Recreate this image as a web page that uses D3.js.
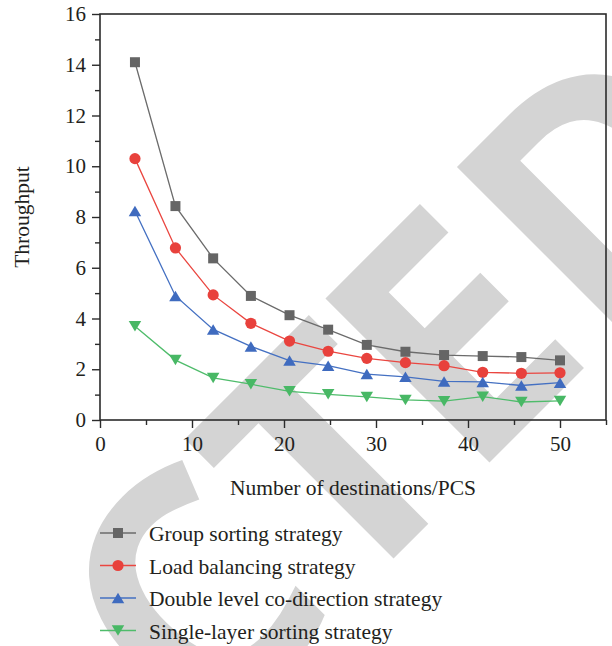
<!DOCTYPE html>
<html>
<head>
<meta charset="utf-8">
<script src="https://cdn.jsdelivr.net/npm/d3@7"></script>
<style>
  body { margin: 0; background: #ffffff; }
  svg { display: block; }
</style>
</head>
<body>
<svg id="chart" width="612" height="646"></svg>
<script>
// Number of destinations (PCS) for each measurement
const destinations = [3.8, 8.2, 12.3, 16.4, 20.6, 24.8, 29.0, 33.2, 37.4, 41.6, 45.8, 50];

// Throughput per strategy
const groupSorting   = [14.1, 8.43, 6.37, 4.89, 4.13, 3.56, 2.96, 2.69, 2.56, 2.52, 2.48, 2.35];
const loadBalancing  = [10.3, 6.78, 4.93, 3.81, 3.11, 2.71, 2.43, 2.26, 2.14, 1.88, 1.84, 1.86];
const doubleLevel    = [8.24, 4.89, 3.57, 2.90, 2.34, 2.14, 1.81, 1.70, 1.52, 1.50, 1.36, 1.47];
const singleLayer    = [3.69, 2.36, 1.66, 1.41, 1.13, 1.01, 0.91, 0.79, 0.74, 0.92, 0.71, 0.75];

const seriesNames = [
  "Group sorting strategy",
  "Load balancing strategy",
  "Double level co-direction strategy",
  "Single-layer sorting strategy"
];

const xMajorTicks = [0, 10, 20, 30, 40, 50];
const xMinorTicks = [5, 15, 25, 35, 45, 55];
const yMajorTicks = [0, 2, 4, 6, 8, 10, 12, 14, 16];
const yMinorTicks = [1, 3, 5, 7, 9, 11, 13, 15];

const xTitle = "Number of destinations/PCS";
const yTitle = "Throughput";

// Diagonal stamp text and the along-baseline offset of each letter
const stampText = "RETRACTED";
const stampLetterOffsets = [-1163, -955, -781, -603, -395, -180, 26, 202, 388];

// ---------------------------------------------------------------------------
const svg = d3.select("#chart");
const plot = { left: 100, right: 606, top: 14, bottom: 420 };

const x = d3.scaleLinear().domain([0, 55]).range([plot.left, plot.right]);
const y = d3.scaleLinear().domain([0, 16]).range([plot.bottom, plot.top]);

const serif = "'Liberation Serif', 'Times New Roman', 'DejaVu Serif', serif";
const textColor = "#231f20";
const axisColor = "#2b2b2b";

// Stamp layer (drawn first so everything else sits on top)
svg.append("g")
  .attr("transform", "translate(326,626) rotate(-45)")
  .append("text")
  .attr("x", stampLetterOffsets.join(" "))
  .attr("y", 0)
  .attr("font-family", "'Open Sans', 'Liberation Sans', Arial, sans-serif")
  .attr("font-weight", 700)
  .attr("font-size", 325)
  .attr("fill", "#d4d4d4")
  .text(stampText);

// Axes
function styleAxis(g) {
  g.select(".domain").remove();
  g.selectAll(".tick line").attr("stroke", axisColor).attr("stroke-width", 1.4);
  g.selectAll(".tick text")
    .attr("fill", textColor)
    .attr("font-family", serif)
    .attr("font-size", 21);
}

svg.append("g")
  .attr("transform", `translate(0,${plot.bottom})`)
  .call(d3.axisBottom(x).tickValues(xMajorTicks).tickSize(8).tickPadding(8).tickFormat(d3.format("d")))
  .call(styleAxis)
  .call(g => g.selectAll(".tick text").attr("dy", "0.71em"));

svg.append("g")
  .attr("transform", `translate(0,${plot.bottom})`)
  .call(d3.axisBottom(x).tickValues(xMinorTicks).tickSize(5).tickFormat(""))
  .call(styleAxis);

svg.append("g")
  .attr("transform", `translate(${plot.left},0)`)
  .call(d3.axisLeft(y).tickValues(yMajorTicks).tickSize(8).tickPadding(6).tickFormat(d3.format("d")))
  .call(styleAxis);

svg.append("g")
  .attr("transform", `translate(${plot.left},0)`)
  .call(d3.axisLeft(y).tickValues(yMinorTicks).tickSize(5).tickFormat(""))
  .call(styleAxis);

// Frame
svg.append("rect")
  .attr("x", plot.left).attr("y", plot.top)
  .attr("width", plot.right - plot.left).attr("height", plot.bottom - plot.top)
  .attr("fill", "none").attr("stroke", axisColor).attr("stroke-width", 1.6);

// Axis titles
svg.append("text")
  .attr("x", (plot.left + plot.right) / 2).attr("y", 495)
  .attr("text-anchor", "middle")
  .attr("font-family", serif).attr("font-size", 21.5).attr("fill", textColor)
  .text(xTitle);

svg.append("text")
  .attr("transform", `translate(29,${(plot.top + plot.bottom) / 2}) rotate(-90)`)
  .attr("text-anchor", "middle")
  .attr("font-family", serif).attr("font-size", 21.5).attr("fill", textColor)
  .text(yTitle);

// Marker shapes, centred on their bounding boxes
const markerPath = {
  square: s => `M${-s/2},${-s/2}H${s/2}V${s/2}H${-s/2}Z`,
  circle: s => d3.symbol(d3.symbolCircle, Math.PI * (s/2) * (s/2))(),
  up:     s => `M0,${-s*0.42}L${s/2},${s*0.42}L${-s/2},${s*0.42}Z`,
  down:   s => `M0,${s*0.42}L${s/2},${-s*0.42}L${-s/2},${-s*0.42}Z`
};

const series = [
  { name: seriesNames[0], values: groupSorting,  line: "#6b6b6b", fill: "#656565", shape: "square", size: 10 },
  { name: seriesNames[1], values: loadBalancing, line: "#ea4640", fill: "#e8413c", shape: "circle", size: 11.2 },
  { name: seriesNames[2], values: doubleLevel,   line: "#4470c2", fill: "#3f6bbf", shape: "up",     size: 12.5 },
  { name: seriesNames[3], values: singleLayer,   line: "#4fbc6b", fill: "#48b865", shape: "down",   size: 12.5 }
];

const line = d3.line().x(d => x(d[0])).y(d => y(d[1]));

series.forEach(s => {
  const pts = destinations.map((d, i) => [d, s.values[i]]);
  const g = svg.append("g");
  g.append("path")
    .attr("d", line(pts))
    .attr("fill", "none")
    .attr("stroke", s.line)
    .attr("stroke-width", 1.3);
  g.selectAll("path.mk")
    .data(pts)
    .join("path")
    .attr("class", "mk")
    .attr("transform", d => `translate(${x(d[0])},${y(d[1])})`)
    .attr("d", markerPath[s.shape](s.size))
    .attr("fill", s.fill);
});

// Legend
const legendRows = d3.scaleLinear().domain([0, 1]).range([533, 565.5]);
series.forEach((s, i) => {
  const cy = legendRows(i);
  const g = svg.append("g");
  g.append("line")
    .attr("x1", 100).attr("x2", 136).attr("y1", cy).attr("y2", cy)
    .attr("stroke", s.line).attr("stroke-width", 1.3);
  g.append("path")
    .attr("transform", `translate(118,${cy})`)
    .attr("d", markerPath[s.shape](s.size))
    .attr("fill", s.fill);
  g.append("text")
    .attr("x", 149).attr("y", cy + 8)
    .attr("font-family", serif).attr("font-size", 21.5).attr("fill", textColor)
    .text(s.name);
});
</script>
</body>
</html>
